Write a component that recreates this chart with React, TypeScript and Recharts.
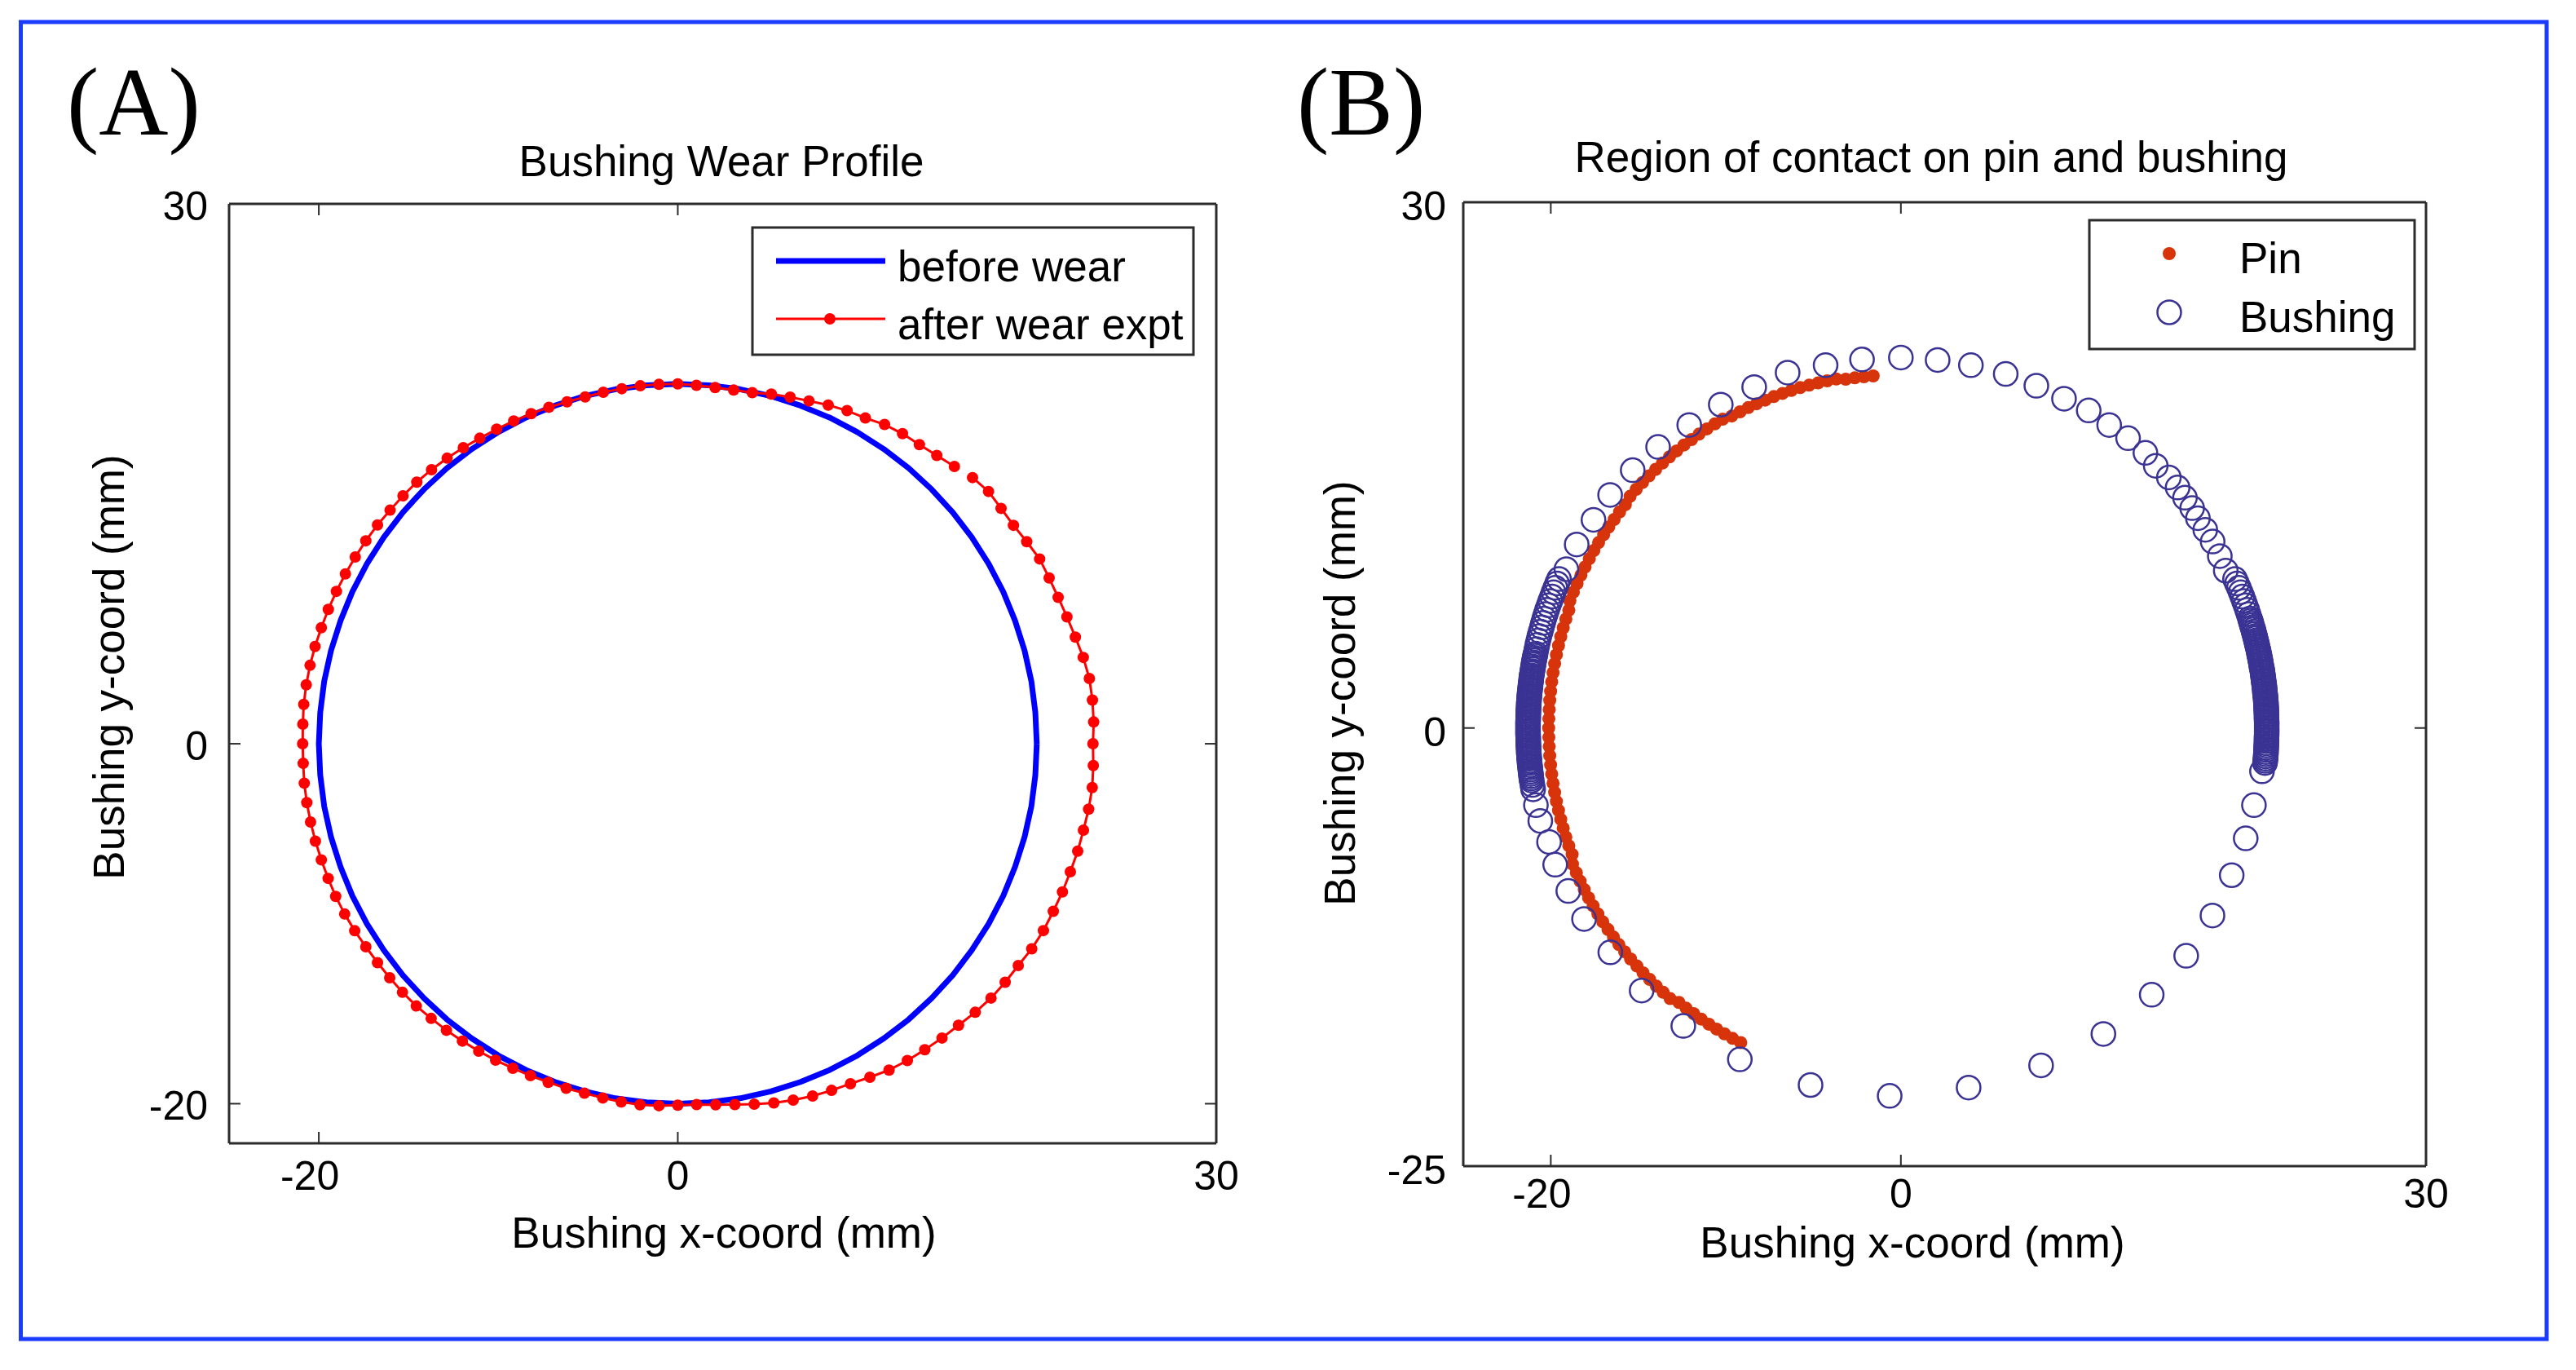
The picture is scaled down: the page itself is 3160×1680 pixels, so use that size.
import React from 'react';
import { ScatterChart, Scatter, XAxis, YAxis } from 'recharts';

const SANS = '"Liberation Sans", Arial, Helvetica, sans-serif';
const SERIF = '"Liberation Serif", "Times New Roman", serif';
const AXIS = '#2b2b2b';
const TICK_LEN = 14;
const BLUE = '#0000ff';
const RED = '#ff0000';
const PIN = '#d7340b';
const BUSH = '#3a3394';
const FRAME = '#1b3cff';

// ---------- Panel A ----------
const xTicksA = [-20, 0, 30];
const yTicksA = [-20, 0, 30];

const beforeWearX = [20, 19.92, 19.7, 19.32, 18.79, 18.13, 17.32, 16.38, 15.32, 14.14, 12.86, 11.47, 10.0, 8.45, 6.84, 5.18, 3.47, 1.74, 0,
  -1.74, -3.47, -5.18, -6.84, -8.45, -10.0, -11.47, -12.86, -14.14, -15.32, -16.38, -17.32, -18.13, -18.79, -19.32, -19.7, -19.92, -20,
  -19.92, -19.7, -19.32, -18.79, -18.13, -17.32, -16.38, -15.32, -14.14, -12.86, -11.47, -10.0, -8.45, -6.84, -5.18, -3.47, -1.74, 0,
  1.74, 3.47, 5.18, 6.84, 8.45, 10.0, 11.47, 12.86, 14.14, 15.32, 16.38, 17.32, 18.13, 18.79, 19.32, 19.7, 19.92, 20];
const beforeWearY = [0, 1.74, 3.47, 5.18, 6.84, 8.45, 10.0, 11.47, 12.86, 14.14, 15.32, 16.38, 17.32, 18.13, 18.79, 19.32, 19.7, 19.92, 20,
  19.92, 19.7, 19.32, 18.79, 18.13, 17.32, 16.38, 15.32, 14.14, 12.86, 11.47, 10.0, 8.45, 6.84, 5.18, 3.47, 1.74, 0,
  -1.74, -3.47, -5.18, -6.84, -8.45, -10.0, -11.47, -12.86, -14.14, -15.32, -16.38, -17.32, -18.13, -18.79, -19.32, -19.7, -19.92, -20,
  -19.92, -19.7, -19.32, -18.79, -18.13, -17.32, -16.38, -15.32, -14.14, -12.86, -11.47, -10.0, -8.45, -6.84, -5.18, -3.47, -1.74, 0];

const afterWearX = [15.41, 14.43, 13.46, 12.52, 11.52, 10.45, 9.43, 8.38, 7.31, 6.26, 5.21, 4.15, 3.11, 2.08, 1.04, 0,
  -1.05, -2.09, -3.12, -4.15, -5.16, -6.17, -7.18, -8.17, -9.14, -10.09, -11.03, -11.95, -12.85, -13.72, -14.54, -15.31,
  -16.03, -16.73, -17.38, -17.97, -18.52, -19.02, -19.47, -19.86, -20.21, -20.49, -20.7, -20.84, -20.89, -20.9,
  -20.87, -20.81, -20.67, -20.46, -20.19, -19.86, -19.48, -19.06, -18.56, -18.0, -17.38, -16.73, -16.05, -15.34, -14.57,
  -13.74, -12.89, -12.0, -11.09, -10.15, -9.19, -8.21, -7.22, -6.22, -5.2, -4.18, -3.15, -2.11, -1.05, 0,
  1.05, 2.11, 3.18, 4.26, 5.35, 6.43, 7.51, 8.57, 9.62, 10.7, 11.77, 12.79, 13.76, 14.72, 15.64, 16.57, 17.45, 18.24,
  18.97, 19.72, 20.37, 20.92, 21.43, 21.87, 22.28, 22.6, 22.89, 23.09, 23.15, 23.13,
  23.17, 23.1, 22.93, 22.59, 22.15, 21.68, 21.19, 20.69, 20.16, 19.44, 18.7, 18.01, 17.31, 16.42];
const afterWearY = [15.41, 16.02, 16.62, 17.23, 17.74, 18.1, 18.51, 18.82, 19.05, 19.26, 19.43, 19.51, 19.66, 19.79, 19.92, 20.0,
  19.97, 19.89, 19.73, 19.53, 19.27, 19.0, 18.7, 18.34, 17.94, 17.48, 16.98, 16.45, 15.87, 15.23, 14.54, 13.78,
  12.98, 12.16, 11.28, 10.38, 9.44, 8.47, 7.47, 6.45, 5.41, 4.36, 3.28, 2.19, 1.09, 0,
  -1.09, -2.19, -3.27, -4.35, -5.41, -6.45, -7.48, -8.48, -9.46, -10.39, -11.28, -12.16, -13.0, -13.81, -14.57,
  -15.26, -15.92, -16.52, -17.08, -17.58, -18.03, -18.44, -18.81, -19.14, -19.41, -19.68, -19.9, -20.06, -20.11, -20.08,
  -20.05, -20.06, -20.05, -20.03, -19.96, -19.8, -19.57, -19.26, -18.89, -18.53, -18.13, -17.6, -17.0, -16.35, -15.64, -14.92, -14.13, -13.25,
  -12.32, -11.39, -10.38, -9.31, -8.23, -7.11, -5.97, -4.8, -3.63, -2.43, -1.21, 0,
  1.21, 2.43, 3.63, 4.8, 5.93, 7.05, 8.14, 9.21, 10.27, 11.23, 12.14, 13.08, 14.02, 14.79];

// ---------- Panel B ----------
const xTicksB = [-20, 0, 30];
const yTicksB = [-25, 0, 30];

const pinX = [-1.58, -2.11, -2.63, -3.15, -3.69, -4.21, -4.73, -5.24, -5.75, -6.26, -6.76, -7.26, -7.75, -8.24, -8.72, -9.19,
  -9.66, -10.18, -10.63, -11.08, -11.53, -11.96, -12.39, -12.81, -13.22, -13.62, -14.01, -14.39, -14.76, -15.12, -15.47,
  -15.74, -16.07, -16.38, -16.69, -16.98, -17.27, -17.54, -17.8, -18.04, -18.28, -18.5, -18.71, -18.91, -18.97, -19.14,
  -19.29, -19.43, -19.56, -19.68, -19.78, -19.87, -19.95, -20.01, -20.06, -20.09, -20.11, -20.12,
  -20.11, -20.09, -20.06, -20.01, -19.95, -19.87, -19.78, -19.68, -19.56, -19.43, -19.29, -19.14, -18.97, -18.78,
  -18.76, -18.54, -18.32, -18.09, -17.84, -17.58, -17.31, -17.03, -16.73, -16.42, -16.11, -15.78, -15.44, -15.08, -14.73,
  -14.35, -13.97, -13.58, -13.18, -12.68, -12.27, -11.84, -11.41, -10.97, -10.53, -10.08, -9.62, -9.15];
const pinY = [20.09, 20.04, 19.98, 19.9, 19.91, 19.81, 19.69, 19.56, 19.42, 19.26, 19.09, 18.91, 18.71, 18.5, 18.28, 18.04,
  17.8, 17.62, 17.35, 17.07, 16.77, 16.46, 16.15, 15.81, 15.47, 15.12, 14.76, 14.39, 14.01, 13.62, 13.22,
  12.74, 12.33, 11.9, 11.47, 11.03, 10.58, 10.13, 9.66, 9.19, 8.72, 8.24, 7.75, 7.26, 6.72, 6.22,
  5.71, 5.21, 4.7, 4.18, 3.67, 3.15, 2.63, 2.1, 1.58, 1.05, 0.53, 0,
  -0.53, -1.05, -1.58, -2.1, -2.63, -3.15, -3.67, -4.18, -4.7, -5.21, -5.71, -6.22, -6.72, -7.21,
  -7.77, -8.26, -8.74, -9.22, -9.69, -10.15, -10.61, -11.06, -11.5, -11.93, -12.36, -12.77, -13.18, -13.58, -13.97,
  -14.35, -14.73, -15.08, -15.44, -15.66, -15.99, -16.3, -16.61, -16.9, -17.18, -17.45, -17.71, -17.95];

const bushTopX = [-19.11, -18.52, -17.56, -16.61, -15.32, -13.87, -12.09, -10.29, -8.38, -6.47, -4.3, -2.22, 0.0, 2.1, 4.0, 5.99,
  7.74, 9.32, 10.73, 11.9, 12.98, 13.97, 14.56, 15.31, 15.81, 16.23, 16.64, 16.97, 17.39, 17.81, 18.22, 18.56];
const bushTopY = [9.06, 10.47, 11.88, 13.3, 14.71, 16.04, 17.29, 18.45, 19.45, 20.28, 20.7, 21.03, 21.14, 21.0, 20.7, 20.2,
  19.53, 18.79, 18.12, 17.29, 16.54, 15.7, 14.96, 14.3, 13.72, 13.14, 12.55, 11.97, 11.31, 10.64, 9.81, 8.98];

const bushRightX = [19.09, 19.2, 19.31, 19.41, 19.51, 19.6, 19.69, 19.78, 19.86, 19.94,
  19.98, 20.02, 20.05, 20.09, 20.13, 20.16, 20.19, 20.23, 20.26, 20.29, 20.32, 20.35, 20.38, 20.41, 20.44, 20.46, 20.49,
  20.51, 20.54, 20.56, 20.58, 20.6, 20.63, 20.65, 20.67, 20.68, 20.7, 20.72, 20.73, 20.75, 20.77, 20.78, 20.79, 20.8,
  20.82, 20.83, 20.84, 20.85, 20.86, 20.86, 20.87, 20.88, 20.88, 20.89, 20.89, 20.89, 20.9, 20.9, 20.9, 20.9,
  20.9, 20.9, 20.9, 20.89, 20.89, 20.89, 20.88, 20.88, 20.87, 20.86, 20.86, 20.85, 20.84, 20.83, 20.82, 20.8];
const bushRightY = [8.5, 8.25, 8.0, 7.75, 7.5, 7.25, 7.0, 6.75, 6.5, 6.25,
  6.125, 6.0, 5.875, 5.75, 5.625, 5.5, 5.375, 5.25, 5.125, 5.0, 4.875, 4.75, 4.625, 4.5, 4.375, 4.25, 4.125,
  4.0, 3.875, 3.75, 3.625, 3.5, 3.375, 3.25, 3.125, 3.0, 2.875, 2.75, 2.625, 2.5, 2.375, 2.25, 2.125, 2.0,
  1.875, 1.75, 1.625, 1.5, 1.375, 1.25, 1.125, 1.0, 0.875, 0.75, 0.625, 0.5, 0.375, 0.25, 0.125, 0.0,
  -0.125, -0.25, -0.375, -0.5, -0.625, -0.75, -0.875, -1.0, -1.125, -1.25, -1.375, -1.5, -1.625, -1.75, -1.875, -2.0];

const bushBottomX = [20.63, 20.17, 19.7, 18.9, 17.8, 16.3, 14.33, 11.57, 8.01, 3.87, -0.64, -5.16, -9.2, -12.43, -14.81,
  -16.6, -18.1, -19.0, -19.75, -20.1, -20.6, -20.85];
const bushBottomY = [-2.47, -4.4, -6.3, -8.4, -10.7, -13.0, -15.22, -17.46, -19.25, -20.52, -20.99, -20.37, -18.91, -17.0, -14.98,
  -12.8, -10.9, -9.3, -7.8, -6.5, -5.3, -4.4];

const bushLeftX = [-19.53, -19.64, -19.74, -19.84, -19.93, -20.03, -20.12, -20.21, -20.29, -20.37, -20.44, -20.51, -20.58, -20.65,
  -20.71, -20.77, -20.82, -20.87,
  -20.9, -20.92, -20.95, -20.97, -20.99, -21.01, -21.03, -21.05, -21.07, -21.09, -21.11, -21.12, -21.14, -21.15, -21.17,
  -21.18, -21.19, -21.21, -21.22, -21.23, -21.24, -21.25, -21.26, -21.26, -21.27, -21.28, -21.28, -21.29, -21.29, -21.29,
  -21.3, -21.3, -21.3, -21.3, -21.3, -21.3, -21.3, -21.29, -21.29, -21.29, -21.28, -21.28, -21.27, -21.26, -21.26, -21.25,
  -21.24, -21.23, -21.22, -21.21, -21.19, -21.18, -21.17, -21.15, -21.14, -21.12, -21.11, -21.09, -21.05, -21.01];
const bushLeftY = [8.5, 8.25, 8.0, 7.75, 7.5, 7.25, 7.0, 6.75, 6.5, 6.25, 6.0, 5.75, 5.5, 5.25, 5.0, 4.75, 4.5, 4.25,
  4.125, 4.0, 3.875, 3.75, 3.625, 3.5, 3.375, 3.25, 3.125, 3.0, 2.875, 2.75, 2.625, 2.5, 2.375, 2.25, 2.125, 2.0,
  1.875, 1.75, 1.625, 1.5, 1.375, 1.25, 1.125, 1.0, 0.875, 0.75, 0.625, 0.5, 0.375, 0.25, 0.125, 0.0,
  -0.125, -0.25, -0.375, -0.5, -0.625, -0.75, -0.875, -1.0, -1.125, -1.25, -1.375, -1.5, -1.625, -1.75, -1.875, -2.0,
  -2.125, -2.25, -2.375, -2.5, -2.625, -2.75, -2.875, -3.0, -3.25, -3.5];

const toPoints = (xs: number[], ys: number[]) => xs.map((x, i) => ({ x, y: ys[i] }));

const beforeWear = toPoints(beforeWearX, beforeWearY);
const afterWear = toPoints(afterWearX, afterWearY);
const pin = toPoints(pinX, pinY);
const bushing = [
  ...toPoints(bushTopX, bushTopY),
  ...toPoints(bushRightX, bushRightY),
  ...toPoints(bushBottomX, bushBottomY),
  ...toPoints(bushLeftX, bushLeftY),
];

// ---------- tick renderers ----------
const bottomTick = (dy: number) => (props: any) => {
  const { x, y, payload } = props;
  const v = payload.value;
  return (
    <g>
      <line x1={x} y1={y} x2={x} y2={y - TICK_LEN} stroke={AXIS} strokeWidth={2} />
      <text x={x + (v < 0 ? -11 : 0)} y={y + dy} textAnchor="middle" fontFamily={SANS} fontSize={50} fill="#000">{v}</text>
    </g>
  );
};
const leftTick = (gap: number, dy: number) => (props: any) => {
  const { x, y, payload } = props;
  return (
    <g>
      <line x1={x} y1={y} x2={x + TICK_LEN} y2={y} stroke={AXIS} strokeWidth={2} />
      <text x={x - gap} y={y + dy} textAnchor="end" fontFamily={SANS} fontSize={50} fill="#000">{payload.value}</text>
    </g>
  );
};
const topTick = (props: any) => {
  const { x, y } = props;
  return <line x1={x} y1={y} x2={x} y2={y + TICK_LEN} stroke={AXIS} strokeWidth={2} />;
};
const rightTick = (props: any) => {
  const { x, y } = props;
  return <line x1={x} y1={y} x2={x - TICK_LEN} y2={y} stroke={AXIS} strokeWidth={2} />;
};

const noShape = () => <g />;
const redDot = (p: any) => <circle cx={p.cx} cy={p.cy} r={7} fill={RED} />;
const pinDot = (p: any) => <circle cx={p.cx} cy={p.cy} r={8} fill={PIN} />;
const ring = (p: any) => <circle cx={p.cx} cy={p.cy} r={14.5} fill="none" stroke={BUSH} strokeWidth={2.5} />;

const axisLine = { stroke: AXIS, strokeWidth: 3 };

function ChartA() {
  const dom: [number, number] = [-25, 30];
  const ydom: [number, number] = [-22.2, 30];
  return (
    <ScatterChart width={1560} height={1680} margin={{ top: 249, right: 67, bottom: 277, left: 280 }}>
      <XAxis type="number" dataKey="x" domain={dom} ticks={xTicksA} interval={0} allowDataOverflow height={1}
        tickSize={0} tickMargin={0} tickLine={false} axisLine={axisLine} tick={bottomTick(57)} />
      <XAxis xAxisId="top" orientation="top" type="number" dataKey="x" domain={dom} ticks={xTicksA} interval={0}
        allowDataOverflow height={1} tickSize={0} tickMargin={0} tickLine={false} axisLine={axisLine} tick={topTick} />
      <YAxis type="number" dataKey="y" domain={ydom} ticks={yTicksA} interval={0} allowDataOverflow width={1}
        tickSize={0} tickMargin={0} tickLine={false} axisLine={axisLine} tick={leftTick(26, 20)} />
      <YAxis yAxisId="right" orientation="right" type="number" dataKey="y" domain={ydom} ticks={yTicksA} interval={0}
        allowDataOverflow width={1} tickSize={0} tickMargin={0} tickLine={false} axisLine={axisLine} tick={rightTick} />
      <Scatter name="before wear" data={beforeWear} line={{ stroke: BLUE, strokeWidth: 7, strokeLinejoin: 'round' }}
        shape={noShape} isAnimationActive={false} />
      <Scatter name="after wear expt" data={afterWear} line={{ stroke: RED, strokeWidth: 3 }}
        shape={redDot} isAnimationActive={false} />
    </ScatterChart>
  );
}

function ChartB() {
  const dom: [number, number] = [-25, 30];
  const ydom: [number, number] = [-25, 30];
  return (
    <ScatterChart width={1600} height={1680} margin={{ top: 247, right: 183, bottom: 249, left: 234 }}>
      <XAxis type="number" dataKey="x" domain={dom} ticks={xTicksB} interval={0} allowDataOverflow height={1}
        tickSize={0} tickMargin={0} tickLine={false} axisLine={axisLine} tick={bottomTick(51)} />
      <XAxis xAxisId="top" orientation="top" type="number" dataKey="x" domain={dom} ticks={xTicksB} interval={0}
        allowDataOverflow height={1} tickSize={0} tickMargin={0} tickLine={false} axisLine={axisLine} tick={topTick} />
      <YAxis type="number" dataKey="y" domain={ydom} ticks={yTicksB} interval={0} allowDataOverflow width={1}
        tickSize={0} tickMargin={0} tickLine={false} axisLine={axisLine} tick={leftTick(21, 22)} />
      <YAxis yAxisId="right" orientation="right" type="number" dataKey="y" domain={ydom} ticks={yTicksB} interval={0}
        allowDataOverflow width={1} tickSize={0} tickMargin={0} tickLine={false} axisLine={axisLine} tick={rightTick} />
      <Scatter name="Pin" data={pin} line={{ stroke: PIN, strokeWidth: 11, strokeLinejoin: 'round' }}
        shape={pinDot} isAnimationActive={false} />
      <Scatter name="Bushing" data={bushing} shape={ring} isAnimationActive={false} />
    </ScatterChart>
  );
}

export default function App() {
  const txt = { fontFamily: SANS, fontSize: 53, fill: '#000' } as const;
  return (
    <div style={{ position: 'absolute', left: 0, top: 0, width: 3160, height: 1680, background: '#fff', overflow: 'hidden' }}>
      <div style={{ position: 'absolute', left: 0, top: 0 }}><ChartA /></div>
      <div style={{ position: 'absolute', left: 1560, top: 0 }}><ChartB /></div>
      <svg width={3160} height={1680} style={{ position: 'absolute', left: 0, top: 0, pointerEvents: 'none' }}>
        <rect x={25.5} y={27} width={3098.5} height={1615} fill="none" stroke={FRAME} strokeWidth={5} />
        <text x={82} y={165} fontFamily={SERIF} fontSize={118} fill="#000">(A)</text>
        <text x={1591} y={165} fontFamily={SERIF} fontSize={118} fill="#000">(B)</text>

        <text x={885} y={216} textAnchor="middle" {...txt}>Bushing Wear Profile</text>
        <text x={2369} y={211} textAnchor="middle" {...txt}>Region of contact on pin and bushing</text>

        <text x={888} y={1530} textAnchor="middle" {...txt}>Bushing x-coord (mm)</text>
        <text x={2346} y={1542} textAnchor="middle" {...txt}>Bushing x-coord (mm)</text>
        <text transform="translate(152,818) rotate(-90)" textAnchor="middle" {...txt}>Bushing y-coord (mm)</text>
        <text transform="translate(1662,850) rotate(-90)" textAnchor="middle" {...txt}>Bushing y-coord (mm)</text>

        {/* legend A */}
        <rect x={923} y={279} width={541} height={156} fill="#fff" stroke={AXIS} strokeWidth={3} />
        <line x1={952} y1={320} x2={1086} y2={320} stroke={BLUE} strokeWidth={7} />
        <line x1={952} y1={391} x2={1086} y2={391} stroke={RED} strokeWidth={3} />
        <circle cx={1018} cy={391} r={7} fill={RED} />
        <text x={1101} y={345} {...txt}>before wear</text>
        <text x={1101} y={416} {...txt}>after wear expt</text>

        {/* legend B */}
        <rect x={2563} y={270} width={399} height={158} fill="#fff" stroke={AXIS} strokeWidth={3} />
        <circle cx={2661} cy={311} r={8} fill={PIN} />
        <circle cx={2661} cy={383} r={14.5} fill="none" stroke={BUSH} strokeWidth={2.5} />
        <text x={2747} y={335} {...txt}>Pin</text>
        <text x={2747} y={407} {...txt}>Bushing</text>
      </svg>
    </div>
  );
}
